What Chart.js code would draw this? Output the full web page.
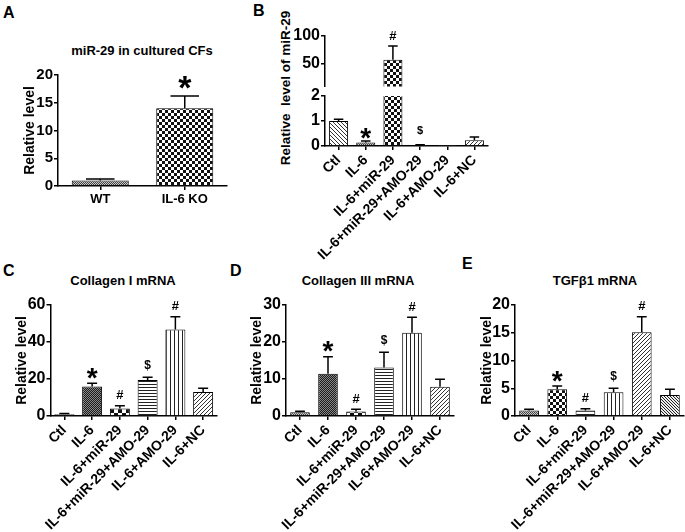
<!DOCTYPE html>
<html><head><meta charset="utf-8">
<script src="https://cdn.jsdelivr.net/npm/chart.js@4"></script>
<style>
html,body{margin:0;padding:0;background:#fff;}
#fig{position:relative;width:685px;height:532px;overflow:hidden;font-family:'Liberation Sans',Arial,sans-serif;font-weight:bold;color:#000;}
#fig canvas{position:absolute;}
.t{position:absolute;line-height:1;white-space:pre;}
.c{transform:translate(-50%,-50%);}
.r{transform:translate(-50%,-50%) rotate(-90deg);}
</style></head><body>
<div id="fig">
  <div class="t" style="left:3px;top:5px;font-size:16px">A</div>
  <div class="t" style="left:253px;top:3px;font-size:16px">B</div>
  <div class="t" style="left:3px;top:263px;font-size:16px">C</div>
  <div class="t" style="left:230px;top:263px;font-size:16px">D</div>
  <div class="t" style="left:462px;top:256px;font-size:16px">E</div>
  <div class="t c" style="left:142px;top:50px;font-size:13px">miR-29 in cultured CFs</div>
  <div class="t c" style="left:123px;top:280px;font-size:13px">Collagen I mRNA</div>
  <div class="t c" style="left:358px;top:280px;font-size:13px">Collagen III mRNA</div>
  <div class="t c" style="left:595px;top:280px;font-size:13px">TGFβ1 mRNA</div>
  <div class="t r" style="left:286px;top:88px;font-size:13.5px">Relative  level of miR-29</div>
</div>
<script>
// ---------------- data ----------------
const groupsA = ['WT', 'IL-6 KO'];
const meanA = [1.0, 14.0];
const semA = [0.25, 2.2];
const markA = ['', '*'];
const ticksA = [0, 5, 10, 15, 20];

const groups = ['Ctl', 'IL-6', 'IL-6+miR-29', 'IL-6+miR-29+AMO-29', 'IL-6+AMO-29', 'IL-6+NC'];

const meanB = [1.0, 0.14, 57.7, 0.03, 0.01, 0.23];
const semB = [0.07, 0.06, 24.3, 0.025, 0, 0.13];
const markB = ['', '*', '#', '$', '', ''];
const ticksBLow = [0, 1, 2];
const ticksBHigh = [50, 100];

const meanC = [1.0, 16.0, 4.1, 19.5, 46.8, 13.0];
const semC = [0.4, 1.7, 1.5, 1.4, 6.9, 2.0];
const markC = ['', '*', '#', '$', '#', ''];
const ticksC = [0, 20, 40, 60];

const meanD = [1.0, 11.4, 1.2, 13.1, 22.5, 7.9];
const semD = [0.3, 4.6, 0.6, 4.1, 4.2, 2.0];
const markD = ['', '*', '#', '$', '#', ''];
const ticksD = [0, 10, 20, 30];

const meanE = [1.0, 4.8, 1.0, 4.3, 15.1, 3.8];
const semE = [0.2, 0.6, 0.3, 0.7, 2.8, 1.0];
const markE = ['', '*', '#', '$', '#', ''];
const ticksE = [0, 5, 10, 15, 20];

// ---------------- styles ----------------
Chart.defaults.font.family = "'Liberation Sans', Arial, sans-serif";
Chart.defaults.font.weight = 'bold';
Chart.defaults.color = '#000';

function makePattern(ctx, name) {
  const t = document.createElement('canvas');
  const g = t.getContext('2d');
  const px = (x, y, c) => { g.fillStyle = c; g.fillRect(x, y, 1, 1); };
  const bg = (w, h, c) => { t.width = w; t.height = h; g.fillStyle = c; g.fillRect(0, 0, w, h); };
  switch (name) {
    case 'fineGray': bg(2, 2, '#c8c8c8'); px(0, 0, '#444'); px(1, 1, '#444'); break;
    case 'fineDark': bg(2, 2, '#8a8a8a'); px(0, 0, '#1a1a1a'); px(1, 1, '#1a1a1a'); break;
    case 'checker3': bg(6, 6, '#fff'); g.fillStyle = '#111'; g.fillRect(0, 0, 3, 3); g.fillRect(3, 3, 3, 3); break;
    case 'checker4': bg(8, 8, '#fff'); g.fillStyle = '#111'; g.fillRect(0, 0, 4, 4); g.fillRect(4, 4, 4, 4); break;
    case 'hlines': bg(1, 3, '#fff'); px(0, 0, '#222'); break;
    case 'vlines': bg(4, 1, '#fff'); px(0, 0, '#222'); break;
    case 'diagFwd': bg(4, 4, '#fff'); px(3, 0, '#333'); px(2, 1, '#333'); px(1, 2, '#333'); px(0, 3, '#333'); break;
    case 'diagBack': bg(4, 4, '#fff'); px(0, 0, '#333'); px(1, 1, '#333'); px(2, 2, '#333'); px(3, 3, '#333'); break;
    case 'diagBackDark': bg(3, 3, '#eee'); px(0, 0, '#222'); px(1, 1, '#222'); px(2, 2, '#222'); break;
    default: bg(1, 1, '#fff');
  }
  return ctx.createPattern(t, 'repeat');
}

const errorBarPlugin = {
  id: 'errorBars',
  afterDatasetsDraw(chart, args, opts) {
    const { ctx } = chart;
    const ys = chart.scales.y;
    const meta = chart.getDatasetMeta(0);
    const vals = chart.data.datasets[0].data;
    ctx.save();
    ctx.strokeStyle = '#000';
    ctx.lineWidth = 1.5;
    meta.data.forEach((bar, i) => {
      const v = vals[i];
      const e = opts.errors[i] || 0;
      if (v == null || v < ys.min || v + e > ys.max + 1e-9) return;
      const y0 = ys.getPixelForValue(v);
      const y1 = ys.getPixelForValue(v + e);
      const hw = bar.width / 4;
      if (e > 0) {
        ctx.beginPath();
        ctx.moveTo(bar.x, y0);
        ctx.lineTo(bar.x, y1);
        ctx.moveTo(bar.x - hw, y1);
        ctx.lineTo(bar.x + hw, y1);
        ctx.stroke();
      }
      const m = opts.marks[i];
      if (m) {
        const size = opts.markSize[m];
        ctx.font = `bold ${size}px 'Liberation Sans', Arial, sans-serif`;
        ctx.fillStyle = '#000';
        ctx.textAlign = 'center';
        ctx.textBaseline = 'alphabetic';
        const mt = ctx.measureText(m);
        const cy = y1 - opts.markGap[m];
        ctx.fillText(m, bar.x, cy + (mt.actualBoundingBoxAscent - mt.actualBoundingBoxDescent) / 2);
      }
    });
    ctx.restore();
  }
};

function makeBar(o) {
  const cv = document.createElement('canvas');
  cv.width = o.w; cv.height = o.h;
  cv.style.left = o.left + 'px'; cv.style.top = o.top + 'px';
  document.getElementById('fig').appendChild(cv);
  const ctx = cv.getContext('2d');
  const fills = o.patterns.map(p => makePattern(ctx, p));
  const gridOpts = { offset: false, drawOnChartArea: false, drawTicks: true, tickLength: 4, color: '#000', lineWidth: 1.5 };
  const borderOpts = { display: true, color: '#000', width: 1.5 };
  return new Chart(ctx, {
    type: 'bar',
    data: {
      labels: o.labels,
      datasets: [{
        data: o.values, backgroundColor: fills, borderColor: '#000', borderWidth: 1,
        borderSkipped: 'start', barPercentage: o.barPct, categoryPercentage: 1, clip: 0
      }]
    },
    options: {
      responsive: false, animation: false, devicePixelRatio: 1,
      layout: { padding: o.pad },
      plugins: {
        legend: { display: false }, tooltip: { enabled: false }, title: { display: false },
        errorBars: { errors: o.errors, marks: o.marks, markSize: o.markSize, markGap: o.markGap }
      },
      scales: {
        x: {
          display: o.xDisplay !== false,
          grid: gridOpts, border: borderOpts,
          ticks: { autoSkip: false, maxRotation: o.rot, minRotation: o.rot, padding: o.xPad, font: { size: o.xFont } },
          afterFit(s) { s.height = o.xH; s.paddingLeft = 0; s.paddingRight = 0; }
        },
        y: {
          min: o.min, max: o.max,
          afterBuildTicks(s) { s.ticks = o.ticks.map(v => ({ value: v })); },
          grid: gridOpts, border: borderOpts,
          ticks: { padding: 1, font: { size: o.yFont } },
          title: { display: !!o.yTitle, text: o.yTitle, font: { size: 14 }, padding: { top: o.yTitlePad || 0, bottom: 0 } },
          afterFit(s) { s.width = o.yW; s.paddingTop = 0; s.paddingBottom = 0; }
        }
      }
    },
    plugins: [errorBarPlugin]
  });
}

const gapStd = { '*': 10, '#': 11, '$': 12 };
const sizeStd = { '*': 28, '#': 13, '$': 12 };

// Panel A
makeBar({
  left: 18, top: 65, w: 214, h: 151, pad: { left: 0, top: 10, right: 5, bottom: 0 },
  labels: groupsA, values: meanA, errors: semA, marks: markA,
  markSize: { '*': 34 }, markGap: { '*': 14 },
  patterns: ['fineGray', 'checker3'], barPct: 0.675,
  min: 0, max: 20, ticks: ticksA, yFont: 15, yW: 40, yTitle: 'Relative level', yTitlePad: 3.6,
  rot: 0, xFont: 13, xPad: 2, xH: 30
});

// Panel B upper (broken axis, 10-100)
makeBar({
  left: 285, top: 6, w: 208, h: 81, pad: { left: 0, top: 30, right: 5, bottom: 0.5 },
  labels: groups, values: meanB, errors: semB, marks: markB,
  markSize: sizeStd, markGap: gapStd,
  patterns: ['diagBack', 'fineGray', 'checker3', 'fineGray', 'fineGray', 'diagFwd'], barPct: 0.7,
  min: 10, max: 100, ticks: ticksBHigh, yFont: 16, yW: 40,
  xDisplay: false, rot: 45, xFont: 14, xPad: 2, xH: 0
});

// Panel B lower (0-2)
makeBar({
  left: 295, top: 88, w: 198, h: 178, pad: { left: 0, top: 8, right: 5, bottom: 0 },
  labels: groups, values: meanB, errors: semB, marks: markB,
  markSize: { '*': 28, '#': 13, '$': 11 }, markGap: { '*': 8, '#': 11, '$': 14 },
  patterns: ['diagBack', 'fineGray', 'checker3', 'fineGray', 'fineGray', 'diagFwd'], barPct: 0.7,
  min: 0, max: 2, ticks: ticksBLow, yFont: 16, yW: 30,
  rot: 45, xFont: 14, xPad: 2, xH: 120
});

// Panel C
makeBar({
  left: 10, top: 285, w: 212, h: 245, pad: { left: 0.5, top: 20, right: 5, bottom: 0 },
  labels: groups, values: meanC, errors: semC, marks: markC,
  markSize: sizeStd, markGap: gapStd,
  patterns: ['fineGray', 'fineDark', 'checker4', 'hlines', 'vlines', 'diagFwd'], barPct: 0.72,
  min: 0, max: 60, ticks: ticksC, yFont: 16, yW: 40, yTitle: 'Relative level', yTitlePad: 2.8,
  rot: 45, xFont: 14, xPad: 2, xH: 114
});

// Panel D
makeBar({
  left: 246, top: 285, w: 213, h: 245, pad: { left: 0, top: 20, right: 5, bottom: 0 },
  labels: groups, values: meanD, errors: semD, marks: markD,
  markSize: sizeStd, markGap: gapStd,
  patterns: ['fineGray', 'fineDark', 'checker4', 'hlines', 'vlines', 'diagFwd'], barPct: 0.7,
  min: 0, max: 30, ticks: ticksD, yFont: 16, yW: 40, yTitle: 'Relative level', yTitlePad: 2.3,
  rot: 45, xFont: 14, xPad: 2, xH: 114
});

// Panel E
makeBar({
  left: 475, top: 285, w: 210, h: 245, pad: { left: 0, top: 20, right: 1, bottom: 0 },
  labels: groups, values: meanE, errors: semE, marks: markE,
  markSize: sizeStd, markGap: gapStd,
  patterns: ['fineGray', 'checker3', 'hlines', 'vlines', 'diagFwd', 'diagBackDark'], barPct: 0.7,
  min: 0, max: 20, ticks: ticksE, yFont: 16, yW: 40, yTitle: 'Relative level', yTitlePad: 3.3,
  rot: 45, xFont: 14, xPad: 2, xH: 114
});
</script>
</body></html>
